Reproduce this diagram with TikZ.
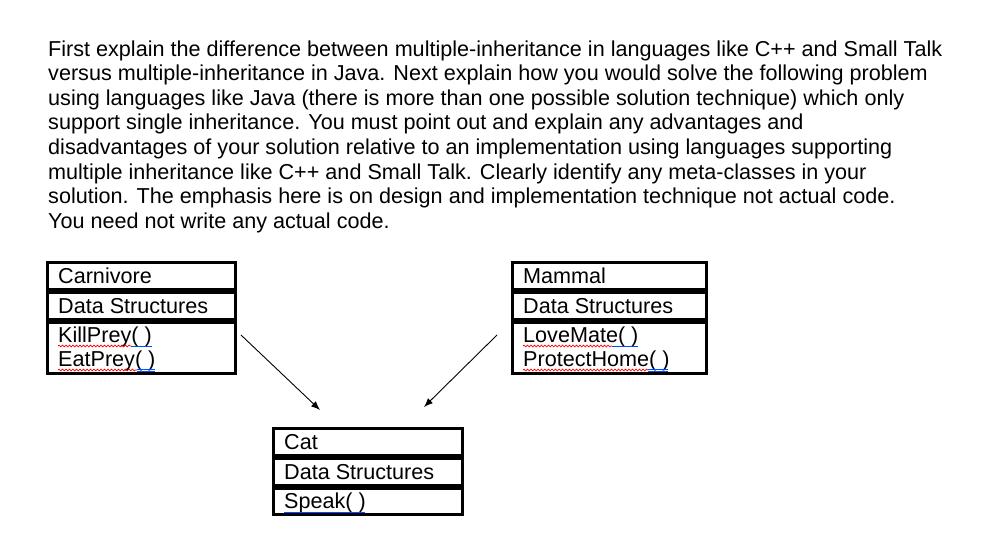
\documentclass[tikz,border=0pt]{standalone}
\usepackage{fontspec}
\setmainfont{Liberation Sans}
\usetikzlibrary{decorations.pathmorphing,arrows.meta}
\begin{document}
\begin{tikzpicture}[x=1pt,y=-1pt,
  txt/.style={anchor=base west,inner sep=0,font=\fontsize{21.6}{24}\selectfont},
  cell/.style={draw,line width=3pt},
  sq/.style={red,line width=0.7pt,decorate,decoration={snake,amplitude=0.9pt,segment length=3.5pt}},
  bl/.style={blue!70!cyan,line width=0.8pt},
  arr/.style={-{Latex[length=9pt,width=7pt]},line width=0.9pt}]
\useasboundingbox (0,0) rectangle (987,533);
\foreach \t [count=\i] in {%
First explain the difference between multiple-inheritance in languages like C++ and Small Talk,
versus multiple-inheritance in Java.  Next explain how you would solve the following problem,
using languages like Java (there is more than one possible solution technique) which only,
support single inheritance.  You must point out and explain any advantages and,
disadvantages of your solution relative to an implementation using languages supporting,
multiple inheritance like C++ and Small Talk.  Clearly identify any meta-classes in your,
solution.  The emphasis here is on design and implementation technique not actual code.,
You need not write any actual code.}
  \node[txt] (p\i) at (48,{56+24.6*(\i-1)}) {\t};
% Carnivore
\draw[cell] (47.5,262.5) rectangle (235,289.5);
\draw[cell] (47.5,292.5) rectangle (235,319.5);
\draw[cell] (47.5,322.5) rectangle (235,373.5);
\node[txt] (c1) at (58,283) {Carnivore};
\node[txt] (c2) at (58,313) {Data Structures};
\node[txt] (c3) at (58,342) {KillPrey( )};
\node[txt] (c4) at (58,366) {EatPrey( )};
\draw[sq] (58,346) -- (131,346); \draw[bl] (131,346) -- (152,346);
\draw[sq] (58,370) -- (137,370); \draw[bl] (137,369.5) -- (155,369.5); \draw[bl] (137,371.5)--(155,371.5);
% Mammal
\draw[cell] (512.5,262.5) rectangle (706,289.5);
\draw[cell] (512.5,292.5) rectangle (706,319.5);
\draw[cell] (512.5,322.5) rectangle (706,373.5);
\node[txt] (m1) at (523,283) {Mammal};
\node[txt] (m2) at (523,313) {Data Structures};
\node[txt] (m3) at (523,342) {LoveMate( )};
\node[txt] (m4) at (523,366) {ProtectHome( )};
\draw[sq] (523,346) -- (612,346); \draw[bl] (612,346) -- (638,346);
\draw[sq] (523,370) -- (648,370); \draw[bl] (648,369.5) -- (668,369.5); \draw[bl] (648,371.5)--(668,371.5);
% Cat
\draw[cell] (273.5,428.5) rectangle (462,455.5);
\draw[cell] (273.5,458.5) rectangle (462,485.5);
\draw[cell] (273.5,488.5) rectangle (462,514);
\node[txt] (k1) at (284,449) {Cat};
\node[txt] (k2) at (284,479) {Data Structures};
\node[txt] (k3) at (284,508) {Speak( )};
\draw[bl] (284,512) -- (365,512);
\coordinate (a1) at (241,335); \coordinate (a2) at (320,410);
\coordinate (b1) at (497,335); \coordinate (b2) at (424,407);
\draw[arr] (a1) -- (a2);
\draw[arr] (b1) -- (b2);
\end{tikzpicture}
\end{document}
